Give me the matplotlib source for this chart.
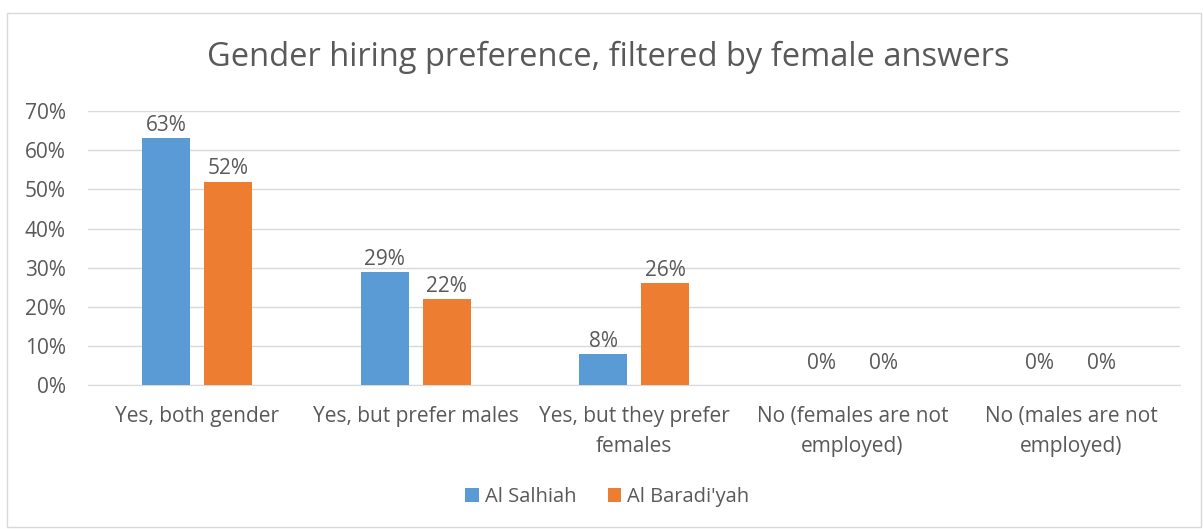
import matplotlib.pyplot as plt
import numpy as np
from matplotlib.patches import Rectangle

categories = ["Yes, both gender", "Yes, but prefer males", "Yes, but they prefer\nfemales",
              "No (females are not\nemployed)", "No (males are not\nemployed)"]
al_salhiah = [63, 29, 8, 0, 0]
al_baradiyah = [52, 22, 26, 0, 0]
series_names = ["Al Salhiah", "Al Baradi'yah"]
colors = ["#5B9BD5", "#ED7D31"]
yticks = [0, 10, 20, 30, 40, 50, 60, 70]

plt.rcParams['font.family'] = ['Open Sans', 'DejaVu Sans']
txt = "#595959"

fig = plt.figure(figsize=(12.03, 5.29), dpi=100)
fig.patches.append(Rectangle((0.006, 0.004), 0.992, 0.972, transform=fig.transFigure,
                             fill=False, edgecolor="#D9D9D9", linewidth=1))
ax = fig.add_axes([0.0732, 0.272, 0.9078, 0.518])

x = np.arange(len(categories))
w = 0.22
off = 0.142
for vals, name, c, d in [(al_salhiah, series_names[0], colors[0], -off),
                         (al_baradiyah, series_names[1], colors[1], off)]:
    v = np.array(vals) / 100
    ax.bar(x + d, v, w, color=c, label=name, zorder=3)
    for xi, vi in zip(x + d, v):
        ax.annotate(f"{vi*100:.0f}%", (xi, vi), xytext=(0, 1.5 if vi > 0 else 8),
                    textcoords="offset points", ha="center", va="bottom",
                    fontsize=15, color=txt)

ax.set_xlim(-0.5, len(categories) - 0.5)
ax.set_ylim(0, 0.7)
ax.set_yticks([t / 100 for t in yticks])
ax.set_yticklabels([f"{t}%" for t in yticks])
ax.set_xticks(x)
ax.set_xticklabels(categories, linespacing=1.55)
ax.tick_params(axis="both", length=0, labelsize=15, colors=txt)
ax.tick_params(axis="x", pad=15)
ax.tick_params(axis="y", pad=16)
ax.grid(axis="y", color="#D9D9D9", linewidth=1, zorder=0)
for s in ["top", "right", "left"]:
    ax.spines[s].set_visible(False)
ax.spines["bottom"].set_color("#D9D9D9")

fig.text(0.506, 0.892, "Gender hiring preference, filtered by female answers",
         ha="center", va="center", fontsize=23.5, color=txt)
fig.legend(loc="center", bbox_to_anchor=(0.505, 0.06), ncol=2, frameon=False,
           fontsize=14.5, handlelength=0.65, handleheight=0.65, handletextpad=0.3,
           columnspacing=1.6, labelcolor=txt)

fig.savefig("out.png", dpi=100)
